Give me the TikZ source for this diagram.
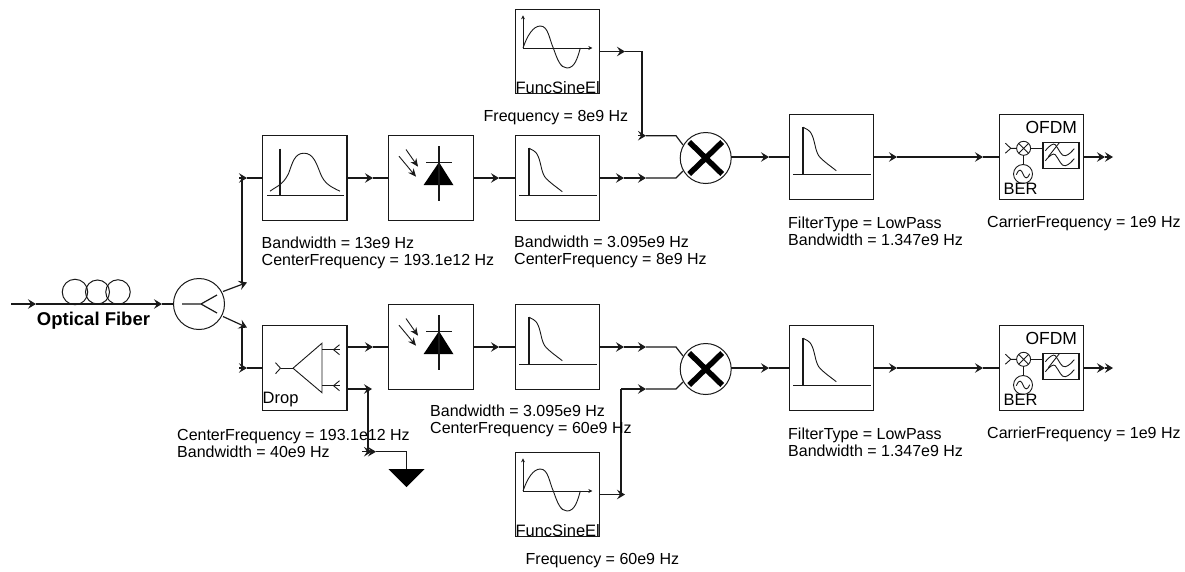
\documentclass[tikz,border=0pt]{standalone}
\usepackage{fontspec}
\setmainfont{Liberation Sans}
\usetikzlibrary{arrows.meta,calc}
\tikzset{
  wire/.style={line width=1.2pt,black!90},
  ar/.style={wire,-{Stealth[length=8pt,width=9.5pt,inset=3pt]}},
  blk/.style={draw=black!90,line width=1.2pt,minimum size=84.5pt,inner sep=0,outer sep=0},
  rnd/.style={draw=black!90,line width=1pt,circle,minimum size=51pt,inner sep=0,outer sep=0},
  lbl/.style={align=left,anchor=west,inner sep=0,font=\fontsize{16}{17}\selectfont,text=black},
  tag/.style={anchor=base west,inner sep=0,font=\fontsize{16.5}{17}\selectfont,text=black},
  thin ink/.style={line width=0.9pt,black!90},
  pics/lowicon/.style={code={
    \draw[wire] (13.7,12.5) -- (13.7,59.5) (4,59.5) -- (82,59.5);
    \draw[thin ink] (13.7,12.5) .. controls (17,15) and (20,14) .. (23,21)
      .. controls (26,28) and (26,38) .. (31,43) .. controls (36,48) and (42,52) .. (47,56);
  }},
  pics/bpicon/.style={code={
    \draw[wire] (17.5,13) -- (17.5,60) (4.5,60) -- (81,60);
    \draw[thin ink] (7.5,55.5) .. controls (13,51) and (20,50) .. (26,38)
      .. controls (30,27) and (32,17.5) .. (41.5,17.5)
      .. controls (51,17.5) and (54,28) .. (58,38)
      .. controls (62,48) and (68,51) .. (77.5,55.5);
  }},
  pics/diodeicon/.style={code={
    \fill[black] (50,26.5) -- (34.5,49.5) -- (64.5,49.5) -- cycle;
    \draw[wire] (50,10.5) -- (50,65) (37,26.5) -- (63,26.5);
    \draw[thin ink,-{Stealth[length=8pt,width=7pt]}] (17,13.8) -- (29,31);
    \draw[thin ink,-{Stealth[length=8pt,width=7pt]}] (10,20.5) -- (27,41);
  }},
  pics/sineicon/.style={code={
    \draw[thin ink,-{Stealth[length=4pt,width=4pt]}] (7.7,38.7) -- (7.7,6);
    \draw[thin ink,-{Stealth[length=4pt,width=4pt]}] (7.7,38.7) -- (77,38.7);
    \draw[thin ink] (7.7,38.7) .. controls (12,26) and (18,16.7) .. (25,16.7)
      .. controls (33,16.7) and (34,30) .. (38,38.7)
      .. controls (42,50) and (45,58.7) .. (51.7,58.7)
      .. controls (59,58.7) and (62,50) .. (65,38.7);
    \node[tag] (sinetxt) at (0,84) {FuncSineEl};
  }},
  pics/mixicon/.style={code={
    \draw[line width=5.5pt,black] (-16.5,-16) -- (16.5,16) (-16.5,16) -- (16.5,-16);
  }},
  pics/ofdmicon/.style={code={
    \node[anchor=base west,inner sep=0,font=\fontsize{17.5}{18}\selectfont,text=black] (ot) at (26,19) {OFDM};
    \node[tag] (bt) at (4,80) {BER};
    \draw[thin ink] (24.3,33.6) circle (7);
    \draw[thin ink] (19.4,28.7) -- (29.2,38.5) (19.4,38.5) -- (29.2,28.7);
    \draw[thin ink] (6,28.5) -- (11.5,33.6) -- (6,38.5) (11.5,33.6) -- (17.3,33.6);
    \draw[thin ink] (24.3,40.6) -- (24.3,49.8);
    \draw[thin ink] (23.7,59.3) circle (9.5);
    \draw[thin ink] (17,60) .. controls (20,53) and (22,55) .. (23.7,59.3) .. controls (25.5,64) and (28,65) .. (30.5,59);
    \draw[wire] (43.7,27.6) rectangle (79.7,53.6);
    \draw[wire] (31.3,33.6) -- (43.7,33.6);
    \draw[thin ink] (46,36) .. controls (50,31) and (54,28) .. (56,30) .. controls (60,35) and (62,42) .. (66,41) .. controls (70,40) and (72,37) .. (75,34);
    \draw[thin ink] (46,46) .. controls (50,41) and (54,38) .. (56,40) .. controls (60,45) and (62,52) .. (66,51) .. controls (70,50) and (72,47) .. (75,44);
    \draw[thin ink] (49,42) -- (60,28);
  }},
  pics/dropicon/.style={code={
    \draw[thin ink] (30.5,42.5) -- (59.5,17.5) -- (59.5,67) -- cycle;
    \draw[wire] (59.5,24) -- (77,24) (59.5,60) -- (77,60);
    \draw[wire] (18,42.5) -- (30.5,42.5);
    \draw[thin ink] (77,19) -- (71,24) -- (77,29) (77,55) -- (71,60) -- (77,65) (13,37) -- (18,42.5) -- (13,48);
    \node[anchor=base west,inner sep=0,font=\fontsize{16.5}{17}\selectfont,text=black] (dt) at (0,78) {Drop};
  }},
}
\begin{document}
\begin{tikzpicture}[x=1pt,y=-1pt]
\useasboundingbox (0,0) rectangle (1185,571);
% --- blocks
\node[blk] (bp) at (304.7,178) {};
\node[blk] (dA) at (431,178) {};
\node[blk] (lA) at (557.5,178) {};
\node[blk] (sA) at (557.5,51.5) {};
\node[rnd] (mA) at (705.7,158) {};
\node[blk] (fA) at (831.5,157) {};
\node[blk] (oA) at (1041.5,157) {};
\node[blk] (dr) at (304.7,368) {};
\node[blk] (dB) at (431,347) {};
\node[blk] (lB) at (557.5,347) {};
\node[blk] (sB) at (557.5,494.5) {};
\node[rnd] (mB) at (705.7,369) {};
\node[blk] (fB) at (831.5,368) {};
\node[blk] (oB) at (1041.5,368) {};
\node[rnd] (sp) at (199,304) {};
% --- icons
\pic at (262.5,135.7) {bpicon};
\pic at (389,135.7) {diodeicon};
\pic at (515.3,135.7) {lowicon};
\pic at (515.3,9.3) {sineicon};
\pic at (705.7,158) {mixicon};
\pic at (789.3,114.7) {lowicon};
\pic at (999.3,114.7) {ofdmicon};
\pic at (262.5,325.7) {dropicon};
\pic at (389,304.7) {diodeicon};
\pic at (515.3,304.7) {lowicon};
\pic at (515.3,452.3) {sineicon};
\pic at (705.7,369) {mixicon};
\pic at (789.3,325.7) {lowicon};
\pic at (999.3,325.7) {ofdmicon};
% --- fibre
\coordinate (in) at (11,304);
\coordinate (a0) at (36,304);
\coordinate (a1) at (162,304);
\node[draw=black!90,line width=1pt,circle,minimum size=25.5pt,inner sep=0] (c1) at (75,292) {};
\node[draw=black!90,line width=1pt,circle,minimum size=24pt,inner sep=0] (c2) at (97.5,292) {};
\node[draw=black!90,line width=1pt,circle,minimum size=24.5pt,inner sep=0] (c3) at (118,292) {};
\draw[ar] (in) -- (a0);
\draw[ar] (a0) -- (a1);
\draw[wire] (a1) -- (sp.west);
\node[inner sep=0,font=\bfseries\fontsize{18.5}{20}\selectfont,text=black] (ofl) at (93.5,321) {Optical Fiber};
% --- splitter
\draw[wire] (182,304) -- (201,304) (217,295) -- (201,304) -- (217,313);
\coordinate (su) at (247,282.5);
\coordinate (sd) at (247,327.5);
\coordinate (bu) at (247,178);
\coordinate (bd) at (247,368);
\draw[ar] (223,291.5) -- (su);
\draw[ar] (223,316.5) -- (sd);
\draw[wire] (242,283) -- (242,178);
\draw[wire] (242,327) -- (242,368);
\draw[ar] (239,178) -- (bu);
\draw[ar] (239,368) -- (bd);
\draw[wire] (bu) -- (bp.west);
\draw[wire] (bd) -- (dr.west);
% --- upper chain
\coordinate (u1) at (373,178);
\coordinate (u2) at (499,178);
\coordinate (u3) at (624,178);
\coordinate (u4) at (646,178);
\draw[ar] (bp.east) -- (u1); \draw[wire] (u1) -- (dA.west);
\draw[ar] (dA.east) -- (u2); \draw[wire] (u2) -- (lA.west);
\draw[ar] (lA.east) -- (u3); \draw[ar] (u3) -- (u4);
\draw[wire] (u4) -- (676,178) -- (683,171);
\coordinate (t1) at (625,51.5);
\coordinate (t2) at (646,135.7);
\draw[ar] (sA.east) -- (t1);
\draw[wire] (t1) -- (642,51.5) -- (642,135.7);
\draw[ar] (638,135.7) -- (t2);
\draw[wire] (t2) -- (676,135.7) -- (683,145);
\coordinate (u5) at (769,157);
\coordinate (u6) at (897,157);
\coordinate (u7) at (983,157);
\coordinate (u8) at (1105,157);
\coordinate (u9) at (1113,157);
\draw[ar] (mA.east |- u5) -- (u5); \draw[wire] (u5) -- (fA.west);
\draw[ar] (fA.east) -- (u6); \draw[ar] (u6) -- (u7); \draw[wire] (u7) -- (oA.west);
\draw[ar] (oA.east) -- (u8); \draw[ar] (u8) -- (u9);
% --- lower chain
\coordinate (l1) at (373,347);
\coordinate (l2) at (499,347);
\coordinate (l3) at (624,347);
\coordinate (l4) at (646,347);
\draw[ar] (dr.east |- l1) -- (l1); \draw[wire] (l1) -- (dB.west);
\draw[ar] (dB.east) -- (l2); \draw[wire] (l2) -- (lB.west);
\draw[ar] (lB.east) -- (l3); \draw[ar] (l3) -- (l4);
\draw[wire] (l4) -- (676,347) -- (683,356);
\coordinate (b1) at (625,494.5);
\coordinate (b2) at (646,389);
\draw[ar] (sB.east) -- (b1);
\draw[wire] (621,494.5) -- (621,389);
\draw[ar] (621,389) -- (b2);
\draw[wire] (b2) -- (676,389) -- (683,382);
\coordinate (l5) at (769,368);
\coordinate (l6) at (897,368);
\coordinate (l7) at (983,368);
\coordinate (l8) at (1105,368);
\coordinate (l9) at (1113,368);
\draw[ar] (mB.east |- l5) -- (l5); \draw[wire] (l5) -- (fB.west);
\draw[ar] (fB.east) -- (l6); \draw[ar] (l6) -- (l7); \draw[wire] (l7) -- (oB.west);
\draw[ar] (oB.east) -- (l8); \draw[ar] (l8) -- (l9);
% --- drop to ground
\coordinate (g1) at (372,389);
\coordinate (g2) at (372,451.7);
\coordinate (g3) at (376,451.7);
\draw[ar] (dr.east |- g1) -- (g1);
\draw[wire] (368,389) -- (368,451.7);
\draw[ar] (362,451.7) -- (g2);
\draw[ar] (366,451.7) -- (g3);
\draw[wire] (g3) -- (406.5,451.7) -- (406.5,469);
\fill[black] (388.5,469) -- (424.5,469) -- (406.5,487) -- cycle;
% --- labels
\node[lbl] (t1a) at (261.5,253) {Bandwidth = 13e9 Hz\\CenterFrequency = 193.1e12 Hz};
\node[lbl] (t2a) at (514,252) {Bandwidth = 3.095e9 Hz\\CenterFrequency = 8e9 Hz};
\node[lbl] (t3a) at (483.5,118) {Frequency = 8e9 Hz};
\node[lbl] (t4a) at (788,231) {FilterType = LowPass\\Bandwidth = 1.347e9 Hz};
\node[lbl] (t5a) at (987,223) {CarrierFrequency = 1e9 Hz};
\node[lbl] (t1b) at (177,443) {CenterFrequency = 193.1e12 Hz\\Bandwidth = 40e9 Hz};
\node[lbl] (t2b) at (430,421) {Bandwidth = 3.095e9 Hz\\CenterFrequency = 60e9 Hz};
\node[lbl] (t3b) at (525.5,561) {Frequency = 60e9 Hz};
\node[lbl] (t4b) at (788,442) {FilterType = LowPass\\Bandwidth = 1.347e9 Hz};
\node[lbl] (t5b) at (987,434) {CarrierFrequency = 1e9 Hz};
\end{tikzpicture}
\end{document}
